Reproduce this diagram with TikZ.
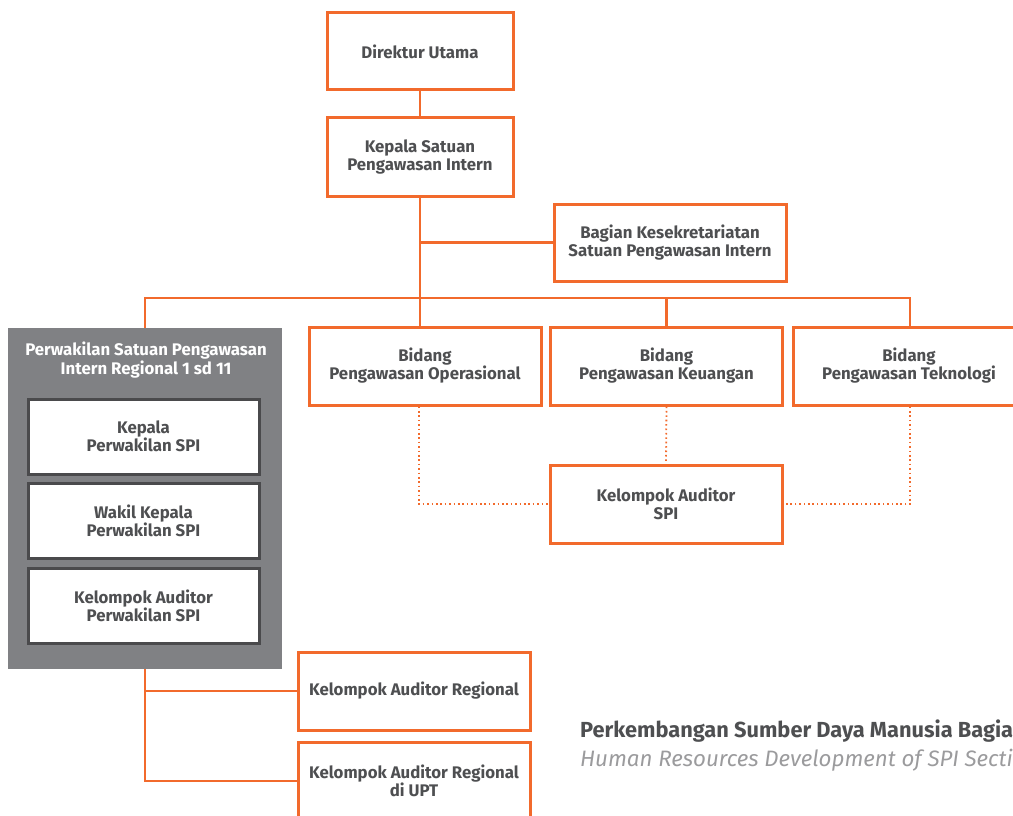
\documentclass[tikz,border=0pt]{standalone}
\usepackage{fontspec}
\setmainfont{Fira Sans}
\definecolor{spiorange}{HTML}{F26A2C}
\definecolor{spitext}{HTML}{4E4F51}
\definecolor{spigray}{HTML}{808184}
\definecolor{spidark}{HTML}{4A4A4C}
\definecolor{spisub}{HTML}{9B9B9D}
\tikzset{
  obox/.style={draw=spiorange, line width=3pt, fill=white, minimum width=232pt, minimum height=78pt,
    align=center, font=\bfseries\fontsize{16.8}{18}\selectfont, text=spitext, inner sep=0pt},
  gbox/.style={draw=spidark, line width=3pt, fill=white, minimum width=231pt, minimum height=75pt,
    align=center, font=\bfseries\fontsize{16.8}{18}\selectfont, text=spitext, inner sep=0pt},
  link/.style={draw=spiorange, line width=2.4pt},
  dotlink/.style={draw=spiorange, line width=1.8pt, dash pattern=on 1.6pt off 2.8pt},
}
\begin{document}
\begin{tikzpicture}[x=1pt,y=-1pt]
\useasboundingbox (0,0) rectangle (1013,816);
\clip (0,0) rectangle (1013,816);

% top of the hierarchy
\node[obox, minimum width=186pt, minimum height=77pt] (du) at (420,51.5) {Direktur Utama};
\node[obox, minimum width=186pt, minimum height=78pt] (ks) at (420,157) {Kepala Satuan\\Pengawasan Intern};
\node[obox, minimum height=77pt] (bk) at (670,242.5) {Bagian Kesekretariatan\\Satuan Pengawasan Intern};

% divisions
\node[obox] (bop) at (425,366) {Bidang\\Pengawasan Operasional};
\node[obox] (bke) at (666.5,366) {Bidang\\Pengawasan Keuangan};
\node[obox] (bte) at (909,366) {Bidang\\Pengawasan Teknologi};
\node[obox] (kas) at (666,504) {Kelompok Auditor\\SPI};

% regional representative block
\node[fill=spigray, minimum width=274pt, minimum height=341pt, inner sep=0pt] (perw) at (145,498.5) {};
\node[align=center, text=white, font=\bfseries\fontsize{16.8}{17}\selectfont, anchor=center] (perwt) at (146,360)
  {Perwakilan Satuan Pengawasan\\Intern Regional 1 sd 11};
\node[gbox] (pk) at (143.5,436.5) {Kepala\\Perwakilan SPI};
\node[gbox] (pw) at (143.5,520.5) {Wakil Kepala\\Perwakilan SPI};
\node[gbox] (pa) at (143.5,605.5) {Kelompok Auditor\\Perwakilan SPI};

% regional auditor groups
\node[obox] (kar) at (414,691) {Kelompok Auditor Regional};
\node[obox] (kau) at (414,781) {Kelompok Auditor Regional\\di UPT};

% solid links
\coordinate (bus) at (420,298);
\draw[link] (du.south) -- (ks.north);
\draw[link] (ks.south) -- (ks.south |- bop.north);
\draw[link] (ks.south |- bk.west) -- (bk.west);
\draw[link] (perw.north) |- (bus) -| ([xshift=1pt]bte.north);
\draw[link] (bke.north) -- (bke.north |- bus);
\draw[link] (perw.south) |- (kar.west);
\draw[link] (perw.south) |- (kau.west);

% functional (dotted) links
\draw[dotlink] ([xshift=-6pt]bop.south) |- (kas.west);
\draw[dotlink] (bke.south) -- (kas.north);
\draw[dotlink] ([xshift=1pt]bte.south) |- (kas.east);

% caption
\node[anchor=west, text=spitext, font=\bfseries\fontsize{21.8}{22}\selectfont, inner sep=0pt] (cap1) at (580,731)
  {Perkembangan Sumber Daya Manusia Bagia};
\node[anchor=west, text=spisub, font=\itshape\fontsize{22.3}{23}\selectfont, inner sep=0pt] (cap2) at (580,760)
  {Human Resources Development of SPI Secti};
\end{tikzpicture}
\end{document}
